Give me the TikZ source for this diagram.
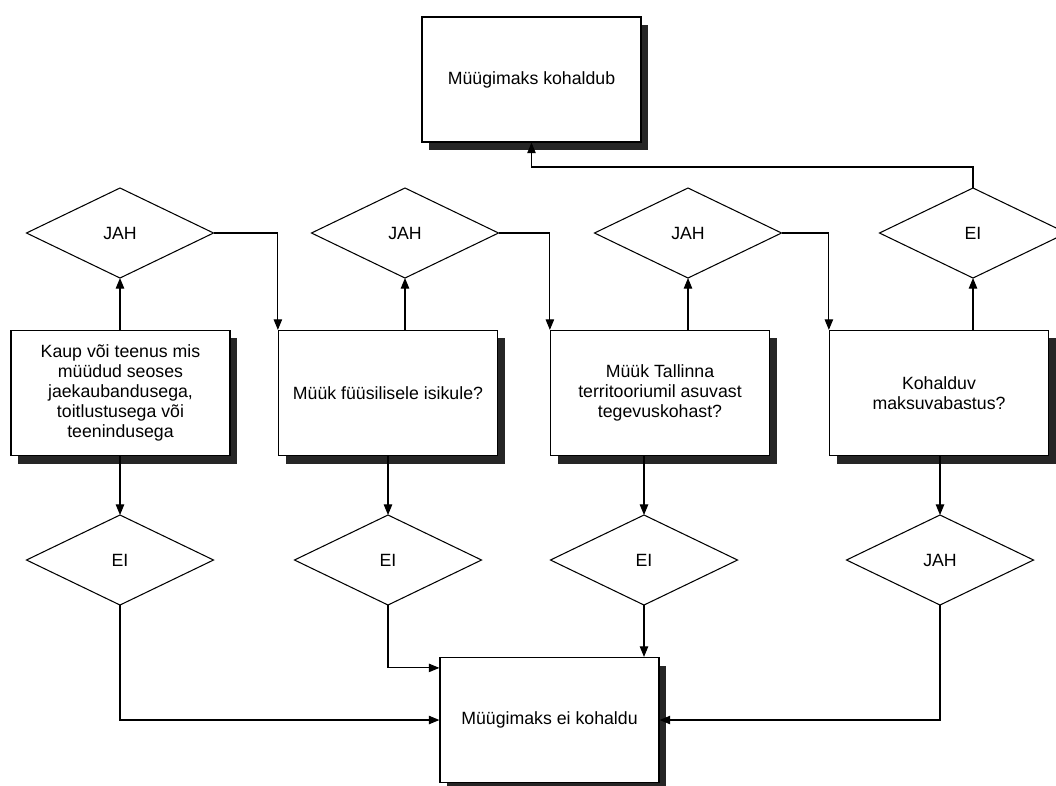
\documentclass[tikz,border=0pt]{standalone}
\usepackage{fontspec}
\setmainfont{Liberation Sans}
\usetikzlibrary{shapes.geometric,arrows.meta,shadows}
\begin{document}
\begin{tikzpicture}[x=0.025cm,y=-0.025cm,
                box/.style={draw,line width=0.85pt,fill=white,minimum width=5.475cm,minimum height=3.125cm,
                    align=center,font=\fontsize{12.6}{14.2}\selectfont,
                    drop shadow={shadow xshift=0.18cm,shadow yshift=-0.2cm,opacity=1,fill=black!85}},
                dia/.style={draw,diamond,line width=0.75pt,minimum width=4.675cm,minimum height=2.25cm,
                    inner sep=0pt,outer sep=0pt,font=\fontsize{12.6}{14.2}\selectfont},
                arr/.style={line width=0.75pt,-{Triangle[length=7.5pt,width=6pt]}}]
                \useasboundingbox (0,0) rectangle (1056,785);

                \node[box] (kohaldub) at (531.5,79.5) {Müügimaks kohaldub};

                \node[dia] (t1) at (120,233) {JAH};
                \node[dia] (t2) at (405,233) {JAH};
                \node[dia] (t3) at (688,233) {JAH};
                \node[dia] (t4) at (973,233) {EI};

                \node[box] (q1) at (120.5,393) {Kaup või teenus mis\\müüdud seoses\\jaekaubandusega,\\toitlustusega või\\teenindusega};
                \node[box] (q2) at (388,393) {Müük füüsilisele isikule?};
                \node[box] (q3) at (660,393) {Müük Tallinna\\territooriumil asuvast\\tegevuskohast?};
                \node[box] (q4) at (939,393) {Kohalduv\\maksuvabastus?};

                \node[dia] (u1) at (120,560) {EI};
                \node[dia] (u2) at (388,560) {EI};
                \node[dia] (u3) at (644,560) {EI};
                \node[dia] (u4) at (940,560) {JAH};

                \node[box] (eikohaldu) at (549.5,720) {Müügimaks ei kohaldu};

                \draw[arr] (q1.north -| t1) -- (t1.south);
                \draw[arr] (q2.north -| t2) -- (t2.south);
                \draw[arr] (q3.north -| t3) -- (t3.south);
                \draw[arr] (q4.north -| t4) -- (t4.south);

                \draw[arr] (t1.east) -| (q2.north west);
                \draw[arr] (t2.east) -| (q3.north west);
                \draw[arr] (t3.east) -| (q4.north west);
                \draw[arr] (t4.north) -- ++(0,-21) -| (kohaldub.south);

                \draw[arr] (q1.south -| u1) -- (u1.north);
                \draw[arr] (q2.south -| u2) -- (u2.north);
                \draw[arr] (q3.south -| u3) -- (u3.north);
                \draw[arr] (q4.south -| u4) -- (u4.north);

                \draw[arr] (u1.south) |- (eikohaldu.west);
                \draw[arr] (u2.south) |- ([yshift=-0.275cm]eikohaldu.north west);
                \draw[arr] (u3.south) -- (u3.south |- eikohaldu.north);
                \draw[arr] (u4.south) |- (eikohaldu.east);
            \end{tikzpicture}
\end{document}
